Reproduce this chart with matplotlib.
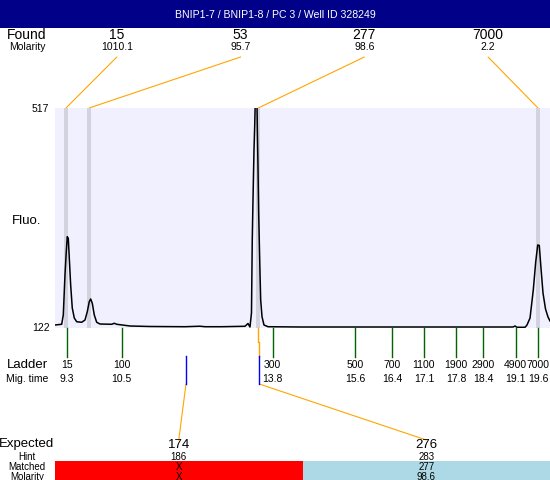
import matplotlib
matplotlib.use('Agg')
import matplotlib.pyplot as plt
from matplotlib.patches import Rectangle, ConnectionPatch
from matplotlib.transforms import blended_transform_factory as blend

plt.rcParams['font.family'] = ['Liberation Sans', 'DejaVu Sans']

# ---------------- data ----------------
title = "BNIP1-7 / BNIP1-8 / PC 3 / Well ID 328249"

# electropherogram trace (migration time [s], fluorescence)
trace_t = [9.045, 9.191, 9.226, 9.263, 9.291, 9.313, 9.335, 9.357, 9.387, 9.422,
           9.466, 9.518, 9.628, 9.700, 9.750, 9.793, 9.824, 9.859, 9.903, 9.955,
           10.027, 10.283, 10.339, 10.392, 10.682, 11.119, 11.883, 12.210, 12.320,
           12.691, 13.193, 13.259, 13.302, 13.335, 13.352, 13.368, 13.390, 13.405,
           13.418, 13.455, 13.462, 13.477, 13.492, 13.505, 13.521, 13.536, 13.565,
           13.608, 13.696, 14.395, 16.577, 19.045, 19.089, 19.133, 19.308, 19.351,
           19.417, 19.488, 19.541, 19.585, 19.619, 19.656, 19.700, 19.755, 19.809,
           19.853]
trace_v = [126.5, 127.8, 144.5, 216.5, 258.4, 285.4, 282.5, 247.1, 198.5, 157.1,
           139.1, 132.4, 131.4, 135.5, 150.4, 168.4, 173.3, 165.6, 144.5, 131.4,
           128.3, 127.8, 129.6, 127.8, 124.7, 123.8, 123.4, 124.3, 123.4,
           123.4, 124.2, 129.2, 122.9, 148.1, 279.5, 351.4, 441.4, 483.3,
           530.0, 530.0, 483.3, 411.4, 328.0, 279.5, 220.1, 171.5, 141.4,
           126.5, 123.4, 122.9, 122.9, 122.9, 124.7, 122.4, 122.4, 126.5,
           139.1, 189.5, 239.9, 270.5, 269.6, 229.1, 184.1, 155.3, 140.9,
           133.7]

found_sizes = ['15', '53', '277', '7000']
found_molarity = ['1010.1', '95.7', '98.6', '2.2']
found_times = [9.285, 9.791, 13.484, 19.59]

ladder_sizes = ['15', '100', '300', '500', '700', '1100', '1900', '2900', '4900', '7000']
ladder_times = [9.3, 10.5, 13.8, 15.6, 16.4, 17.1, 17.8, 18.4, 19.1, 19.6]
ladder_time_labels = ['9.3', '10.5', '13.8', '15.6', '16.4', '17.1', '17.8', '18.4', '19.1', '19.6']

expected_sizes = ['174', '276']
expected_hint = ['186', '283']
expected_times = [11.905, 13.505]
matched_sizes = ['X', '277']
matched_molarity = ['X', '98.6']
matched_ok = [False, True]

y_range = (122, 517)
x_range = (9.045, 19.853)

# ---------------- styles ----------------
NAVY = '#000088'
BG = '#F0F0FF'
BAND = '#D3D3E0'
ORANGE = '#FFA500'
GREEN = '#006400'
BLUE = '#0000FF'
RED = '#FF0000'
LBLUE = '#ADD8E6'
W, H = 550, 480

fig = plt.figure(figsize=(W / 100, H / 100), dpi=100)
fig.patch.set_facecolor('white')

# main plot area (pixel rect 55..550 x 108..327.5)
ax = fig.add_axes([55 / W, 1 - 327.5 / H, 495 / W, 219.5 / H], zorder=1)
ax.set_facecolor(BG)
for s in ax.spines.values():
    s.set_visible(False)
ax.set_xlim(*x_range)
ax.set_ylim(*y_range)
ax.set_xticks([])
ax.set_yticks(list(y_range))
ax.set_yticklabels([str(v) for v in y_range], fontsize=7.5)
ax.tick_params(axis='y', length=0, pad=4)

for t in found_times:
    ax.axvspan(t - 0.045, t + 0.045, color=BAND, lw=0, zorder=1)
ax.plot(trace_t, trace_v, color='black', lw=1.1, zorder=3)

# overlay in pixel coordinates (y downward)
ov = fig.add_axes([0, 0, 1, 1], zorder=2)
ov.set_xlim(0, W)
ov.set_ylim(H, 0)
ov.set_autoscale_on(False)
ov.axis('off')
ov.patch.set_visible(False)

tx_data = blend(ax.transData, ov.transData)   # x: migration time, y: pixels
tx_slot = blend(ax.transAxes, ov.transData)   # x: fraction of plot width, y: pixels

# header
ov.add_patch(Rectangle((0, 0), W, 28, facecolor=NAVY, edgecolor='none'))
ov.text(W / 2, 14.5, title, color='white', fontsize=7.6, ha='center', va='center')

# found row
ov.text(27, 35, 'Found', fontsize=10, ha='center', va='center')
ov.text(27, 47.5, 'Molarity', fontsize=7.5, ha='center', va='center')
nf = len(found_sizes)
for i, (sz, mol, t) in enumerate(zip(found_sizes, found_molarity, found_times)):
    fx = (i + 0.5) / nf
    ov.text(fx, 35, sz, fontsize=10, ha='center', va='center', transform=tx_slot)
    ov.text(fx, 47.5, mol, fontsize=7.5, ha='center', va='center', transform=tx_slot)
    con = ConnectionPatch(xyA=(fx, 57), coordsA=tx_slot,
                          xyB=(t, 1.0), coordsB=ax.get_xaxis_transform(),
                          arrowstyle='-', color=ORANGE, lw=0.8)
    fig.add_artist(con)

ov.text(26.7, 221, 'Fluo.', fontsize=9.5, ha='center', va='center')

# ladder
for t, sz, lt in zip(ladder_times, ladder_sizes, ladder_time_labels):
    ov.plot([t, t], [328, 357], color=GREEN, lw=1.0, transform=tx_data)
    ov.text(t, 364.5, sz, fontsize=7.5, ha='center', va='center', transform=tx_data)
    ov.text(t, 379.5, lt, fontsize=7.5, ha='center', va='center', transform=tx_data)
ov.text(27, 364.5, 'Ladder', fontsize=9.5, ha='center', va='center')
ov.text(27, 379.5, 'Mig. time', fontsize=7.5, ha='center', va='center')

# expected / matched links
ne = len(expected_sizes)
for i, (t, ok) in enumerate(zip(expected_times, matched_ok)):
    fx = (i + 0.5) / ne
    if ok:
        ov.plot([found_times[2], found_times[2]], [328, 342], color=ORANGE, lw=1.0, transform=tx_data)
        ov.plot([t, t], [342, 357], color=ORANGE, lw=1.0, transform=tx_data)
    ov.plot([t, t], [356, 384], color=BLUE, lw=1.0, transform=tx_data)
    con = ConnectionPatch(xyA=(t, 384), coordsA=tx_data,
                          xyB=(fx, 440), coordsB=tx_slot,
                          arrowstyle='-', color=ORANGE, lw=0.8)
    fig.add_artist(con)

# bottom table
for i, ok in enumerate(matched_ok):
    ov.add_patch(Rectangle((i / ne, 461), 1 / ne, 19, facecolor=LBLUE if ok else RED,
                           edgecolor='none', transform=tx_slot))
ov.text(27, 444.5, 'Expected', fontsize=9.5, ha='center', va='center')
ov.text(27, 456.5, 'Hint', fontsize=7.0, ha='center', va='center')
ov.text(27, 467.0, 'Matched', fontsize=7.0, ha='center', va='center')
ov.text(27, 476.5, 'Molarity', fontsize=7.0, ha='center', va='center')
for i in range(ne):
    fx = (i + 0.5) / ne
    ov.text(fx, 444.5, expected_sizes[i], fontsize=9.5, ha='center', va='center', transform=tx_slot)
    ov.text(fx, 456.5, expected_hint[i], fontsize=7.0, ha='center', va='center', transform=tx_slot)
    ov.text(fx, 467.0, matched_sizes[i], fontsize=7.0, ha='center', va='center', transform=tx_slot)
    ov.text(fx, 476.5, matched_molarity[i], fontsize=7.0, ha='center', va='center', transform=tx_slot)

fig.savefig('out.png', dpi=100)
